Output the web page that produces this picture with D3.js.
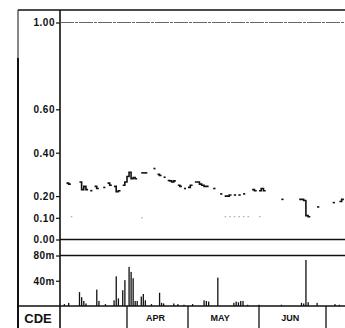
<!DOCTYPE html>
<html>
<head>
<meta charset="utf-8">
<script src="https://cdn.jsdelivr.net/npm/d3@7"></script>
<style>
  body { margin: 0; background: #fff; }
  svg { display: block; }
  .tick text { font-family: "Liberation Sans", Arial, sans-serif; font-size: 10px; font-weight: bold; letter-spacing: 0.5px; fill: #111; }
  .month { font-family: "Liberation Sans", Arial, sans-serif; font-size: 9px; font-weight: bold; fill: #111; }
  .code { font-family: "Liberation Sans", Arial, sans-serif; font-size: 13px; font-weight: bold; fill: #111; }
</style>
</head>
<body>
<div id="chart"></div>
<script>
// month boundaries and labels
const monthStarts = ["03-01", "04-01", "05-01", "06-01", "07-01"];
const monthLabels = ["APR", "MAY", "JUN"];
const monthLabelDates = ["04-15", "05-15", "06-15"];

// price series (null = break in the line)
const priceDates = [
  "03-04", "03-05", "03-06",
  "03-10", "03-11", "03-12", "03-13", "03-14",
  "03-15", "03-16",
  "03-17", "03-18", "03-19",
  "03-21", "03-22",
  "03-23", "03-24", "03-25",
  "03-26", "03-27", "03-28", "03-29",
  "03-30", "03-31", "04-01", "04-02", "04-03", "04-04", "04-05", "04-06",
  "04-08", "04-09", "04-10", "04-11",
  "04-14", "04-15",
  "04-16", "04-17", "04-18",
  "04-19", "04-20",
  "04-21", "04-22", "04-23", "04-24", "04-25",
  "04-26", "04-27", "04-28",
  "04-29", "04-30",
  "05-01", "05-02", "05-03",
  "05-04", "05-05", "05-06", "05-07", "05-08", "05-09", "05-10",
  "05-12", "05-13",
  "05-15", "05-16",
  "05-17", "05-18", "05-19", "05-20",
  "05-21", "05-22",
  "05-23", "05-24",
  "05-25", "05-26",
  "05-29", "05-30", "05-31",
  "06-01", "06-02", "06-03", "06-04",
  "06-11", "06-12",
  "06-19", "06-20", "06-21", "06-22", "06-23", "06-24",
  "06-27", "06-28",
  "07-04", "07-05",
  "07-07", "07-08", "07-09"
];
const priceValues = [
  0.26, 0.255, null,
  0.265, 0.23, 0.245, 0.23, null,
  0.225, null,
  0.245, 0.235, null,
  0.24, null,
  0.26, 0.25, null,
  0.245, 0.22, 0.225, null,
  0.25, 0.265, 0.29, 0.31, 0.28, 0.285, 0.28, null,
  0.307, 0.307, 0.307, null,
  0.327, null,
  0.30, 0.295, null,
  0.287, null,
  0.272, 0.27, 0.265, 0.27, null,
  0.25, 0.245, null,
  0.235, null,
  0.24, 0.25, null,
  0.265, 0.265, 0.255, 0.25, 0.245, 0.245, null,
  0.235, null,
  0.21, null,
  0.20, 0.20, 0.205, null,
  0.205, null,
  0.205, null,
  0.21, null,
  0.23, 0.225, null,
  0.225, 0.235, 0.225, null,
  0.185, null,
  0.185, 0.185, 0.18, 0.11, 0.105, null,
  0.15, null,
  0.17, null,
  0.175, 0.185, null
];

// faint lower series
const lowDates = ["03-06", "04-08", "05-17", "05-19", "05-21", "05-23", "05-25", "05-27", "06-01"];
const lowValues = [0.105, 0.10, 0.105, 0.105, 0.105, 0.105, 0.105, 0.105, 0.105];

// volume (millions)
const volumeDates = [
  "03-03", "03-05", "03-10", "03-11", "03-12", "03-13", "03-18", "03-19", "03-22",
  "03-26", "03-27", "03-28", "03-30", "03-31", "04-02", "04-03", "04-04", "04-05",
  "04-06", "04-08", "04-09", "04-10", "04-13", "04-17", "04-18", "04-19", "04-24",
  "04-26", "04-29", "05-03", "05-08", "05-09", "05-10", "05-14", "05-21", "05-22",
  "05-23", "05-24", "05-25", "05-27", "06-01", "06-11", "06-20", "06-21", "06-22",
  "06-23", "06-27", "07-05", "07-07"
];
const volumeValues = [
  3, 5, 22, 14, 8, 4, 26, 8, 3,
  9, 47, 12, 25, 41, 62, 54, 44, 8,
  8, 15, 19, 9, 3, 21, 5, 4, 4,
  3, 2, 3, 9, 8, 7, 45, 5, 7,
  6, 8, 8, 2, 2, 2, 5, 4, 73,
  6, 5, 3, 2
];

const priceTicks = [0, 0.1, 0.2, 0.4, 0.6, 1.0];
const volumeTicks = [40, 80];
const stockCode = "CDE";

const W = 345, H = 328;
const parse = s => d3.timeParse("%Y-%m-%d")("1983-" + s);
const axisX = 60, frameX = 18, topY = 10;

const svg = d3.select("#chart").append("svg").attr("width", W).attr("height", H);

const x = d3.scaleTime()
  .domain(monthStarts.map(parse))
  .range([60, 127, 188, 259, 326]);
const yPrice = d3.scaleLinear().domain([0, 1]).range([239.5, 22.5]);
const yVol = d3.scaleLinear().domain([0, 80]).range([306, 255.5]);

// frame lines
const frame = svg.append("g").attr("stroke", "#111").attr("fill", "none");
frame.append("line").attr("x1", frameX).attr("x2", W).attr("y1", topY).attr("y2", topY).attr("stroke-width", 1.5);
frame.append("line").attr("x1", frameX).attr("x2", frameX).attr("y1", topY).attr("y2", 58).attr("stroke-width", 1);
frame.append("line").attr("x1", frameX).attr("x2", frameX).attr("y1", 58).attr("y2", H).attr("stroke-width", 2);
frame.append("line").attr("x1", axisX).attr("x2", axisX).attr("y1", topY).attr("y2", H).attr("stroke-width", 1.6);
frame.append("line").attr("x1", axisX).attr("x2", W).attr("y1", yPrice(1)).attr("y2", yPrice(1))
  .attr("stroke", "#666").attr("stroke-width", 1).attr("stroke-dasharray", "14,1,3,1");
frame.append("line").attr("x1", axisX).attr("x2", W).attr("y1", yPrice(0)).attr("y2", yPrice(0)).attr("stroke-width", 1.5);
frame.append("line").attr("x1", axisX).attr("x2", W).attr("y1", yVol(80)).attr("y2", yVol(80)).attr("stroke-width", 1.5);
frame.append("line").attr("x1", frameX).attr("x2", W).attr("y1", yVol(0)).attr("y2", yVol(0)).attr("stroke-width", 1.5);

// month dividers
monthStarts.slice(1).forEach(m => {
  frame.append("line").attr("x1", x(parse(m))).attr("x2", x(parse(m)))
    .attr("y1", yVol(0)).attr("y2", H).attr("stroke-width", 1.3);
});

// axes
const axP = svg.append("g").attr("transform", `translate(${axisX},0)`)
  .call(d3.axisLeft(yPrice).tickValues(priceTicks).tickFormat(d3.format(".2f")).tickSize(4).tickPadding(1));
const axV = svg.append("g").attr("transform", `translate(${axisX},0)`)
  .call(d3.axisLeft(yVol).tickValues(volumeTicks).tickFormat(d => d + "m").tickSize(4).tickPadding(1));
[axP, axV].forEach(a => {
  a.select(".domain").remove();
  a.selectAll(".tick line").attr("stroke", "#111").attr("stroke-width", 1.2);
  a.selectAll(".tick text").attr("dy", "0.34em");
});

// price line, broken into runs
const runs = [];
let cur = [];
priceDates.forEach((d, i) => {
  const v = priceValues[i];
  if (v == null) {
    if (cur.length) runs.push(cur);
    cur = [];
  } else {
    cur.push({ date: parse(d), value: v });
  }
});
if (cur.length) runs.push(cur);
runs.forEach(r => {
  const last = r[r.length - 1];
  r.push({ date: d3.timeDay.offset(last.date, 1), value: last.value });
});

const line = d3.line()
  .x(d => x(d.date))
  .y(d => yPrice(d.value))
  .curve(d3.curveStepAfter);

svg.append("g").selectAll("path").data(runs).join("path")
  .attr("d", line)
  .attr("fill", "none")
  .attr("stroke", "#111")
  .attr("stroke-width", 1.6);

// faint lower dots
svg.append("g").selectAll("rect").data(lowDates).join("rect")
  .attr("x", d => x(parse(d)))
  .attr("y", (d, i) => yPrice(lowValues[i]) - 0.5)
  .attr("width", 1.5)
  .attr("height", 1)
  .attr("fill", "#999");

// volume bars
svg.append("g").selectAll("rect").data(volumeDates).join("rect")
  .attr("x", d => x(parse(d)) - 0.6)
  .attr("y", (d, i) => yVol(volumeValues[i]))
  .attr("width", 1.3)
  .attr("height", (d, i) => yVol(0) - yVol(volumeValues[i]))
  .attr("fill", "#111");

// month labels
svg.append("g").selectAll("text").data(monthLabels).join("text")
  .attr("class", "month")
  .attr("x", (d, i) => x(parse(monthLabelDates[i])))
  .attr("y", 321)
  .attr("text-anchor", "middle")
  .text(d => d);

svg.append("text").attr("class", "code")
  .attr("x", (frameX + axisX) / 2 - 1)
  .attr("y", 323)
  .attr("text-anchor", "middle")
  .text(stockCode);
</script>
</body>
</html>
